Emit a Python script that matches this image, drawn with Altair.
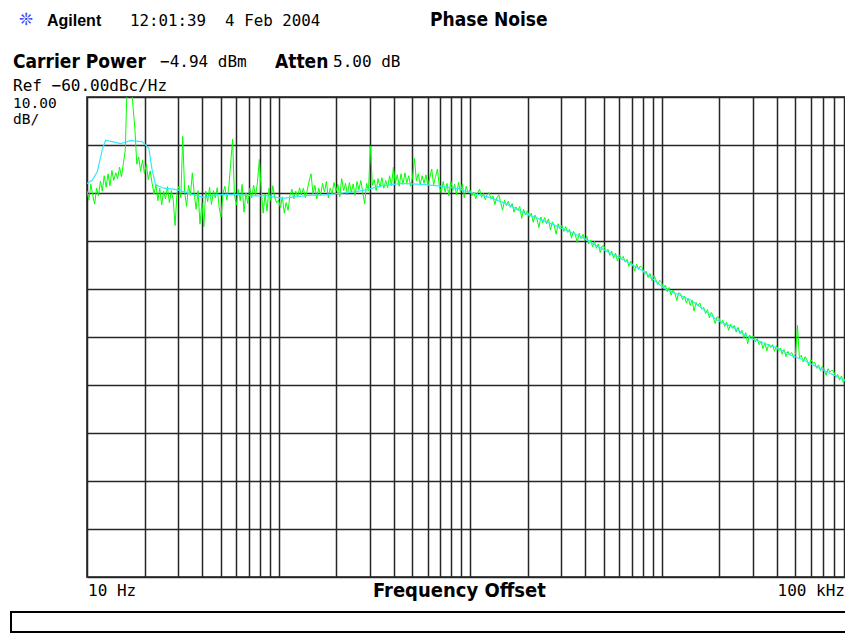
import altair as alt
import pandas as pd

# ---------------- data ----------------
# sweep points: 100 log-spaced points per decade (mantissas), four decades
MANTISSA = [1.000, 1.023, 1.047, 1.072, 1.096, 1.122, 1.148, 1.175, 1.202, 1.230,
            1.259, 1.288, 1.318, 1.349, 1.380, 1.413, 1.445, 1.479, 1.514, 1.549,
            1.585, 1.622, 1.660, 1.698, 1.738, 1.778, 1.820, 1.862, 1.905, 1.950,
            1.995, 2.042, 2.089, 2.138, 2.188, 2.239, 2.291, 2.344, 2.399, 2.455,
            2.512, 2.570, 2.630, 2.692, 2.754, 2.818, 2.884, 2.951, 3.020, 3.090,
            3.162, 3.236, 3.311, 3.388, 3.467, 3.548, 3.631, 3.715, 3.802, 3.890,
            3.981, 4.074, 4.169, 4.266, 4.365, 4.467, 4.571, 4.677, 4.786, 4.898,
            5.012, 5.129, 5.248, 5.370, 5.495, 5.623, 5.754, 5.888, 6.026, 6.166,
            6.310, 6.457, 6.607, 6.761, 6.918, 7.079, 7.244, 7.413, 7.586, 7.762,
            7.943, 8.128, 8.318, 8.511, 8.710, 8.913, 9.120, 9.333, 9.550, 9.772]
DECADES = [10, 100, 1000, 10000]
END_FREQ = 100000

# green (measured) trace, dBc/Hz, one list per decade
GREEN_D1 = [-79.5, -81.5, -78.2, -80.5, -82.3, -79.0, -80.6, -77.5, -79.6, -76.4,
            -78.8, -76.0, -78.5, -75.3, -77.4, -75.8, -77.0, -74.6, -76.6, -73.8,
            -71.0, -56.0, -56.0, -56.0, -62.0, -66.5, -74.0, -72.5, -75.5, -73.2,
            -76.0, -74.0, -77.2, -75.4, -78.0, -80.2, -78.2, -81.6, -79.0, -82.5,
            -79.6, -81.2, -78.7, -82.0, -79.5, -81.3, -86.8, -80.0, -78.6, -81.0,
            -68.2, -79.8, -82.8, -78.4, -80.5, -75.8, -80.2, -83.4, -79.5, -86.5,
            -82.0, -87.0, -79.6, -81.8, -78.8, -82.4, -79.5, -81.0, -78.9, -83.0,
            -85.0, -80.0, -78.6, -81.5, -79.0, -74.0, -68.8, -80.4, -82.5, -79.2,
            -81.6, -78.2, -84.0, -80.0, -82.2, -79.0, -81.0, -78.4, -80.6, -77.8,
            -73.0, -79.5, -84.2, -80.2, -83.8, -79.0, -81.6, -78.5, -80.9, -82.0]
GREEN_D2 = [-81.5, -83.0, -80.8, -84.2, -82.0, -83.6, -80.5, -79.2, -81.2, -79.6,
            -80.8, -78.9, -80.4, -79.0, -81.0, -79.4, -77.5, -76.0, -80.2, -78.4,
            -81.2, -79.0, -80.5, -78.0, -79.8, -77.6, -81.0, -79.0, -80.2, -77.8,
            -79.6, -78.2, -80.8, -77.0, -79.5, -78.0, -80.4, -77.8, -79.9, -78.1,
            -80.5, -77.6, -79.3, -77.4, -79.8, -82.2, -78.0, -79.5, -70.2, -78.4,
            -77.2, -79.5, -77.0, -78.8, -76.8, -79.0, -77.4, -78.9, -76.4, -78.5,
            -74.6, -78.0, -76.2, -78.6, -76.0, -78.2, -75.8, -77.9, -76.4, -78.6,
            -76.7, -72.8, -77.5, -76.0, -78.3, -76.4, -78.0, -76.2, -78.4, -76.8,
            -75.0, -78.3, -76.6, -75.0, -78.6, -80.0, -77.6, -79.8, -78.0, -80.6,
            -77.5, -79.5, -78.2, -80.4, -77.8, -79.9, -78.1, -81.0, -78.6, -80.0]
GREEN_D3 = [-79.4, -80.6, -79.8, -81.2, -80.0, -79.2, -80.9, -80.1, -81.4, -80.3,
            -79.9, -81.3, -80.6, -82.4, -81.0, -80.4, -81.9, -83.6, -81.5, -82.6,
            -81.7, -83.0, -82.2, -84.0, -82.9, -83.6, -82.8, -85.3, -83.4, -84.6,
            -83.7, -85.0, -84.2, -86.1, -84.6, -85.5, -87.2, -85.0, -86.2, -85.1,
            -86.4, -85.4, -87.7, -86.0, -86.8, -88.6, -86.4, -87.5, -86.7, -88.0,
            -87.0, -88.2, -87.6, -89.4, -88.0, -88.7, -90.3, -88.4, -89.5, -88.6,
            -89.9, -89.0, -90.6, -89.8, -91.2, -90.1, -91.5, -90.6, -92.4, -91.0,
            -91.1, -92.3, -91.7, -93.0, -92.1, -93.6, -92.5, -94.2, -92.9, -93.8,
            -93.2, -94.4, -93.8, -95.3, -94.2, -95.0, -96.2, -94.8, -95.9, -95.2,
            -95.6, -96.9, -96.3, -97.6, -96.8, -98.3, -97.2, -98.0, -99.1, -98.2]
GREEN_D4 = [-98.6, -99.8, -99.2, -100.6, -99.7, -101.3, -100.2, -100.9, -102.4, -100.8,
            -101.0, -102.2, -101.5, -102.9, -101.9, -103.4, -102.3, -104.6, -102.8, -103.5,
            -102.9, -104.2, -103.8, -105.1, -104.3, -106.0, -104.9, -105.7, -107.2, -105.8,
            -106.0, -107.2, -106.5, -107.8, -106.9, -108.6, -107.3, -108.2, -107.6, -109.0,
            -108.0, -109.3, -108.6, -110.2, -109.1, -111.4, -109.6, -110.3, -109.8, -111.0,
            -110.3, -111.6, -110.9, -112.4, -111.2, -112.9, -111.5, -112.2, -111.6, -113.0,
            -111.8, -112.9, -112.3, -113.6, -112.6, -114.1, -113.0, -113.7, -113.2, -114.4,
            -113.6, -107.6, -114.3, -113.8, -115.2, -114.1, -114.8, -116.0, -114.7, -115.4,
            -115.3, -116.5, -115.8, -117.0, -116.1, -116.8, -118.0, -116.6, -117.3, -116.9,
            -117.2, -118.4, -117.8, -119.0, -118.1, -119.6, -118.6, -119.2, -120.4, -119.0]
GREEN_END = -119.6

# cyan (smoothed) trace
CYAN_FREQ = [10, 10.66, 11.31, 12.01, 12.51, 13.54, 14.98, 16.89, 19.41, 21.03,
             21.88, 22.8, 25.18, 28.38, 31.99, 36.07, 40.66, 47.5, 59.5, 72.6,
             88.7, 104, 122.2, 143.3, 175, 205.4, 250.9, 282.9, 345.1, 438.5,
             557.8, 680.8, 865.9, 995.5, 1241, 1516, 1927, 2761, 3800, 5030,
             6393, 8128, 10330, 14210, 16750, 19570, 23990, 29170, 34360, 40180,
             46970, 55340, 64930, 76170, 96120, 100000]
CYAN_DB = [-78.0, -77.3, -75.6, -71.0, -69.0, -69.3, -69.7, -69.1, -69.3, -70.7,
           -75.2, -78.3, -79.0, -79.2, -79.7, -80.4, -80.9, -80.4, -80.3, -80.6,
           -80.6, -81.1, -80.8, -80.5, -80.4, -80.1, -79.7, -79.4, -78.5, -78.0,
           -78.2, -78.5, -79.1, -79.9, -80.8, -82.1, -84.2, -86.7, -89.1, -91.9,
           -94.0, -96.4, -99.9, -102.3, -104.4, -106.5, -108.1, -110.3, -111.3, -112.3,
           -113.75, -114.8, -116.25, -117.6, -119.5, -119.8]

GRID_MANT = [1, 2, 3, 4, 5, 6, 7, 8, 9]
Y_GRID = [-60, -70, -80, -90, -100, -110, -120, -130, -140, -150, -160]

# ---------------- tables ----------------
g_freq = [m * d for d in DECADES for m in MANTISSA] + [END_FREQ]
g_db = GREEN_D1 + GREEN_D2 + GREEN_D3 + GREEN_D4 + [GREEN_END]
green = pd.DataFrame({"f": g_freq, "db": g_db})
cyan = pd.DataFrame({"f": CYAN_FREQ, "db": CYAN_DB})
x_grid = [m * d for d in DECADES for m in GRID_MANT] + [END_FREQ]

W, H = 766, 480
MONO = "DejaVu Sans Mono"
BOLD = "'DejaVu Sans Condensed', 'Liberation Sans Narrow', 'DejaVu Sans'"

xs = alt.Scale(type="log", domain=[10, 100000], nice=False)
ys = alt.Scale(domain=[-160, -60], nice=False, zero=False)
xax = alt.Axis(values=x_grid, grid=True, labels=False, ticks=False, domain=False,
               title=None, gridColor="#262626", gridWidth=1.5, gridOpacity=1)
yax = alt.Axis(values=Y_GRID, grid=True, labels=False, ticks=False, domain=False,
               title=None, gridColor="#262626", gridWidth=1.5, gridOpacity=1)

green_line = alt.Chart(green).mark_line(color="#00ff00", strokeWidth=1, clip=True).encode(
    x=alt.X("f:Q", scale=xs, axis=xax),
    y=alt.Y("db:Q", scale=ys, axis=yax),
)
cyan_line = alt.Chart(cyan).mark_line(color="#33e8ff", strokeWidth=1.2, clip=True).encode(
    x=alt.X("f:Q", scale=xs),
    y=alt.Y("db:Q", scale=ys),
)

one = pd.DataFrame({"k": [0]})


def label(text, x, y, size, font=MONO, weight="normal", align="left", color="black",
          baseline="alphabetic"):
    return alt.Chart(pd.DataFrame({"t": [text]})).mark_text(
        font=font, fontSize=size, fontWeight=weight, align=align,
        baseline=baseline, color=color,
    ).encode(text="t:N", x=alt.value(x), y=alt.value(y))


texts = [
    label("\u274a", -61, -77, 17, font="DejaVu Sans", align="center", color="#3c3cff",
          baseline="middle"),
    label("Agilent", -40, -71, 16, font="Liberation Sans", weight="bold"),
    label("12:01:39\u00a0 4 Feb 2004", 43, -71, 15.8),
    label("Phase Noise", 343, -71, 19, font=BOLD, weight="bold"),
    label("Carrier Power", -74, -29, 19, font=BOLD, weight="bold"),
    label("\u22124.94 dBm", 73, -30, 16),
    label("Atten", 188, -29, 19, font=BOLD, weight="bold"),
    label("5.00 dB", 246, -30, 16),
    label("Ref \u221260.00dBc/Hz", -74, -6, 16),
    label("10.00", -74, 11, 14.5),
    label("dB/", -74, 27, 14.5),
    label("10 Hz", 1, 499, 16),
    label("Frequency Offset", 286, 500, 20, font=BOLD, weight="bold"),
    label("100 kHz", 758, 499, 16, align="right"),
]

box = alt.Chart(one).mark_rect(fill="white", stroke="black", strokeWidth=2).encode(
    x=alt.value(-76), x2=alt.value(775), y=alt.value(515), y2=alt.value(535)
)

chart = alt.layer(green_line, cyan_line, box, *texts).properties(
    width=W, height=H,
    autosize=alt.AutoSizeParams(type="none"),
    padding={"left": 79, "top": 89, "right": -8, "bottom": 56},
    background="white",
).configure_view(stroke="#1a1a1a", strokeWidth=1.5)

chart.save("out.html", embed_options={"renderer": "svg", "actions": False})
